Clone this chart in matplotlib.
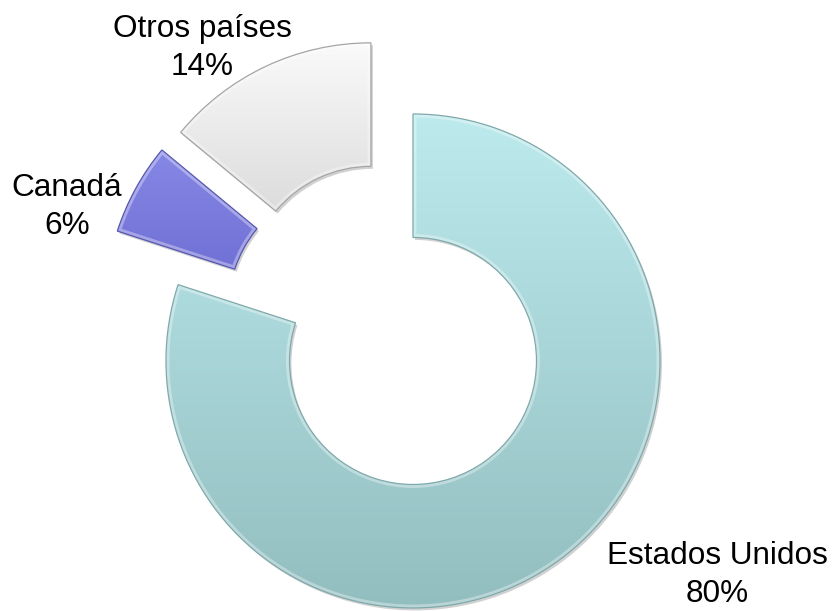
import matplotlib
matplotlib.use("Agg")
import matplotlib.pyplot as plt
from matplotlib.patches import Wedge
import numpy as np
from matplotlib.colors import LinearSegmentedColormap

# ---- data ----
categories = ["Estados Unidos", "Canadá", "Otros países"]
values = [80, 6, 14]
explode = [0.168, 0.168, 0.168]

# ---- style ----
top_colors = ["#BCEAED", "#8787E6", "#FAFAFA"]
bottom_colors = ["#93BEC0", "#7171D6", "#DCDCDC"]
edge_colors = ["#7FA9AB", "#5656B0", "#A5A5A5"]

W, H = 834, 611
fig = plt.figure(figsize=(W / 100, H / 100), dpi=100)
ax = fig.add_axes([0, 0, 1, 1])

wedges, _ = ax.pie(values, explode=explode, startangle=90, counterclock=False,
                   radius=1.0,
                   wedgeprops=dict(width=0.5, linewidth=0.9))

# pixel scale: 247 px per unit radius, centre at (388.6, 327.4) px from top-left
scale = 247.0
cx_px, cy_px = 388.6, 327.4

for w, tc, bc, ec in zip(wedges, top_colors, bottom_colors, edge_colors):
    w.set_facecolor("none")
    w.set_edgecolor(ec)
    w.set_zorder(4)
    # soft shadow
    sh = Wedge((w.center[0] + 0.008, w.center[1] - 0.010), w.r,
               w.theta1, w.theta2, width=w.width,
               facecolor="#000000", alpha=0.18, edgecolor="none", zorder=1)
    ax.add_patch(sh)
    ext = w.get_path().get_extents()
    cmap = LinearSegmentedColormap.from_list("g", [bc, tc])
    grad = np.linspace(0, 1, 256).reshape(-1, 1)
    im = ax.imshow(grad, cmap=cmap, origin="lower", aspect="auto",
                   extent=(ext.x0, ext.x1, ext.y0, ext.y1), zorder=2,
                   interpolation="bilinear")
    im.set_clip_path(w)
    # bevel highlight along the edge (inside)
    hl = Wedge(w.center, w.r, w.theta1, w.theta2, width=w.width,
               facecolor="none", edgecolor="white", linewidth=5, alpha=0.35, zorder=3)
    ax.add_patch(hl)
    hl.set_clip_path(w)

ax.set_xlim(-cx_px / scale, (W - cx_px) / scale)
ax.set_ylim(-(H - cy_px) / scale, cy_px / scale)
ax.set_aspect("equal")
ax.axis("off")

# ---- labels (pixel positions of baselines) ----
label_pos = {
    "Estados Unidos": (717, 564, 602),
    "Canadá": (67, 196, 234),
    "Otros países": (202, 37, 75),
}
font = dict(family=["Liberation Sans", "DejaVu Sans"], fontsize=22.7, color="black")
for name, val in zip(categories, values):
    x, y1, y2 = label_pos[name]
    fig.text(x / W, 1 - y1 / H, name, ha="center", va="baseline", **font)
    fig.text(x / W, 1 - y2 / H, f"{val}%", ha="center", va="baseline", **font)

fig.savefig("out.png", dpi=100)
